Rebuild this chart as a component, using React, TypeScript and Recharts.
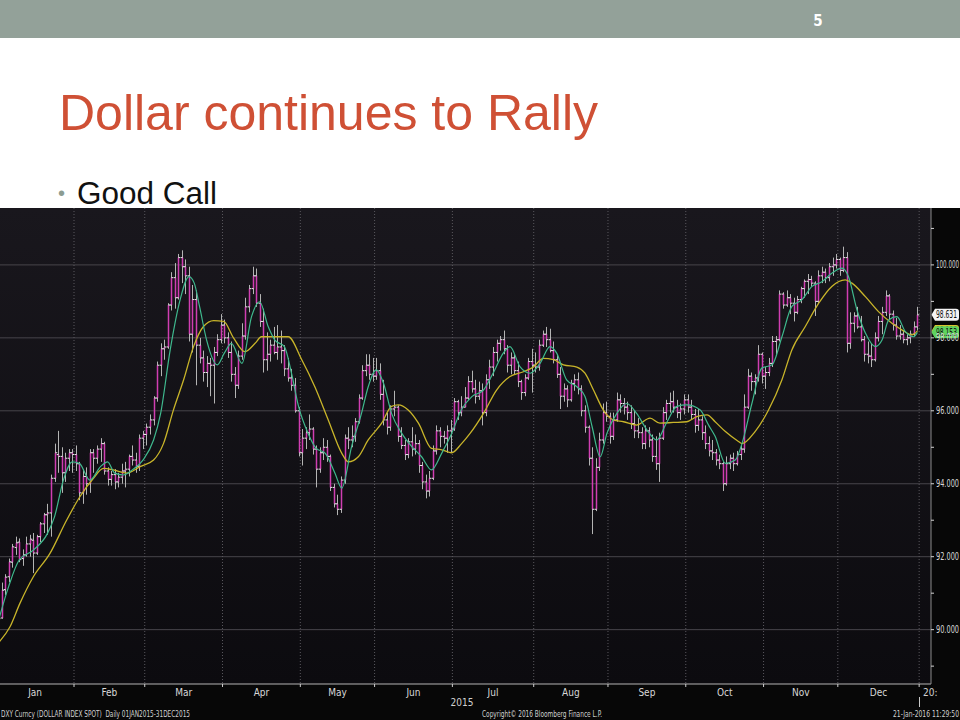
import React from 'react';
import { ComposedChart, Bar, Line, XAxis, YAxis, CartesianGrid, ReferenceLine } from 'recharts';

// DXY daily bars for 2015, one entry per weekday (index 0 = 1 Jan), one line per month
const opens = [
  90.27, 90.32, 91.10, 91.45, 91.85, 92.25, 92.40, 91.95, 92.05, 92.35, 92.45, 92.10, 92.55, 92.90, 93.15, 93.20, 94.15, 94.80, 94.75, 94.30, 94.70, 94.85,
  94.80, 94.55, 93.75, 94.20, 94.00, 94.85, 94.70, 94.95, 95.10, 94.35, 94.12, 94.25, 94.05, 94.18, 94.35, 94.40, 94.75, 94.65, 94.48, 95.25,
  95.35, 95.55, 95.75, 96.35, 97.25, 97.70, 97.75, 98.90, 99.65, 99.10, 100.20, 99.95, 99.70, 98.10, 99.05, 97.80, 97.45, 97.05, 97.30, 97.25, 97.60, 97.95,
  98.35, 98.00, 97.60, 97.00, 96.70, 97.50, 98.05, 98.85, 99.35, 99.70, 98.95, 98.45, 97.40, 97.55, 97.80, 97.60, 97.75, 97.65, 97.15, 96.90, 96.70, 96.00,
  94.85, 95.25, 95.40, 95.50, 94.95, 94.40, 94.85, 95.00, 94.75, 93.90, 93.45, 93.30, 94.10, 95.25, 95.20, 95.30, 95.70, 96.35, 97.10, 97.25, 97.00,
  96.95, 97.10, 96.45, 95.75, 95.55, 96.05, 96.10, 95.30, 95.05, 94.80, 95.15, 94.95, 95.10, 94.50, 94.05, 93.80, 94.15, 94.90, 95.45, 95.30, 95.25, 95.45,
  95.50, 96.25, 95.95, 96.10, 96.35, 96.80, 96.60, 96.40, 96.55, 95.95, 96.85, 97.20, 97.60, 97.85, 97.95, 97.70, 97.25, 97.45, 97.10, 96.80, 96.50, 96.90, 97.35,
  97.25, 97.20, 97.80, 98.10, 97.95, 97.65, 97.40, 97.00, 96.40, 96.60, 96.30, 96.75, 96.85, 96.60, 96.00, 95.55, 94.70, 93.30, 94.45, 95.20, 95.95,
  95.85, 95.30, 95.75, 96.30, 96.20, 96.10, 95.95, 95.65, 95.45, 95.40, 95.10, 95.45, 95.20, 94.75, 94.55, 95.25, 95.95, 96.20, 96.25, 96.10, 95.95, 96.05,
  96.30, 96.10, 95.90, 95.60, 95.75, 95.40, 95.10, 94.90, 94.85, 94.65, 94.55, 94.00, 94.55, 94.70, 94.55, 94.80, 94.95, 96.10, 96.95, 96.80, 96.90, 97.55,
  96.95, 97.05, 97.30, 97.90, 97.95, 99.20, 98.90, 99.10, 98.95, 98.70, 99.05, 99.35, 99.55, 99.60, 99.50, 99.00, 99.70, 99.80, 99.65, 99.95, 100.00,
  100.15, 99.85, 100.20, 97.85, 98.40, 98.60, 98.30, 97.95, 97.55, 97.50, 97.40, 98.00, 98.45, 98.70, 99.15, 98.65, 98.35, 98.05, 98.10, 97.95, 98.00, 98.10, 98.30,
];

const highs = [
  90.55, 91.29, 91.52, 91.95, 92.35, 92.55, 92.50, 92.20, 92.55, 92.60, 92.65, 92.60, 92.95, 93.20, 93.45, 94.25, 95.10, 95.45, 95.00, 94.85, 94.95, 94.95,
  95.05, 94.60, 94.40, 94.45, 94.95, 94.95, 95.05, 95.25, 95.15, 94.45, 94.35, 94.40, 94.30, 94.55, 94.60, 94.80, 95.05, 94.85, 95.35, 95.45,
  95.65, 95.90, 96.40, 97.35, 97.85, 97.95, 98.95, 99.80, 100.05, 100.30, 100.40, 100.15, 99.95, 99.45, 99.30, 98.00, 97.65, 97.50, 97.45, 97.75, 98.10, 98.65,
  98.50, 98.15, 97.90, 97.20, 97.65, 98.40, 99.10, 99.45, 99.95, 99.90, 99.20, 98.80, 98.15, 97.95, 98.30, 98.35, 98.20, 97.80, 97.45, 97.15, 96.90, 96.10,
  95.50, 95.55, 95.90, 95.55, 95.05, 95.00, 95.25, 95.20, 94.80, 94.00, 93.70, 94.20, 95.35, 95.55, 95.60, 95.80, 96.45, 97.25, 97.55, 97.55, 97.45,
  97.45, 97.30, 96.85, 95.95, 96.15, 96.55, 96.15, 95.55, 95.20, 95.25, 95.55, 95.35, 95.20, 94.60, 94.25, 94.35, 95.05, 95.60, 95.55, 95.45, 95.60, 95.75,
  96.35, 96.30, 96.40, 96.65, 96.95, 97.10, 96.85, 96.80, 96.75, 97.00, 97.40, 97.75, 97.95, 98.05, 98.20, 97.80, 97.60, 97.55, 97.35, 96.85, 97.00, 97.45, 97.70,
  97.60, 97.95, 98.20, 98.30, 98.25, 97.90, 97.55, 97.20, 96.75, 96.70, 96.85, 97.00, 97.05, 96.70, 96.15, 95.60, 95.00, 94.70, 95.40, 96.20, 96.25,
  95.95, 95.95, 96.50, 96.45, 96.35, 96.25, 96.15, 96.00, 95.80, 95.55, 95.60, 95.55, 95.35, 95.30, 95.40, 96.10, 96.30, 96.50, 96.55, 96.30, 96.20, 96.45,
  96.45, 96.30, 96.05, 96.05, 95.85, 95.60, 95.30, 95.20, 94.95, 94.80, 94.60, 94.75, 94.80, 94.85, 94.90, 95.05, 96.45, 97.15, 97.05, 97.00, 97.80, 97.60,
  97.20, 97.45, 98.05, 98.05, 99.30, 99.25, 99.30, 99.20, 99.10, 99.15, 99.40, 99.60, 99.75, 99.70, 99.55, 99.85, 99.95, 99.90, 100.05, 100.20, 100.30,
  100.20, 100.50, 100.35, 98.70, 98.70, 98.85, 98.60, 98.05, 97.90, 97.85, 98.15, 98.60, 98.85, 99.30, 99.20, 98.75, 98.55, 98.35, 98.20, 98.10, 98.20, 98.45, 98.85,
];

const lows = [
  90.15, 90.30, 90.95, 91.30, 91.70, 92.05, 91.85, 91.75, 92.00, 92.00, 91.55, 92.05, 92.40, 92.65, 92.60, 92.55, 94.05, 94.30, 93.75, 94.05, 94.35, 94.30,
  94.35, 93.55, 93.45, 93.70, 93.75, 94.30, 94.55, 94.60, 94.25, 93.95, 93.95, 93.85, 93.90, 94.00, 93.90, 94.20, 94.50, 94.30, 94.35, 94.95,
  95.05, 95.35, 95.60, 96.25, 96.95, 97.40, 97.70, 98.75, 98.80, 99.05, 99.50, 99.20, 97.90, 97.60, 96.70, 97.30, 96.80, 96.65, 96.40, 96.20, 97.50, 97.85,
  97.85, 97.45, 96.80, 96.35, 96.60, 97.40, 97.95, 98.70, 99.20, 98.85, 98.30, 97.05, 97.10, 97.35, 97.55, 97.40, 97.30, 96.95, 96.80, 96.55, 95.95, 94.75,
  94.50, 94.95, 95.20, 94.80, 93.90, 94.30, 94.65, 94.60, 93.80, 93.35, 93.14, 93.20, 94.00, 94.95, 95.00, 95.15, 95.65, 96.30, 96.95, 96.85, 96.80,
  96.85, 96.30, 95.60, 95.35, 95.45, 95.85, 95.15, 94.95, 94.65, 94.70, 94.75, 94.80, 94.30, 93.85, 93.60, 93.65, 94.10, 94.80, 95.00, 95.10, 94.85, 94.85,
  95.45, 95.75, 95.85, 96.10, 96.30, 96.50, 96.20, 96.30, 95.60, 95.85, 96.60, 96.95, 97.35, 97.65, 97.55, 97.05, 97.00, 97.00, 96.65, 96.30, 96.40, 96.85, 96.50,
  97.05, 97.10, 97.75, 97.75, 97.60, 97.30, 96.90, 96.05, 96.25, 96.10, 96.25, 96.55, 96.45, 95.85, 95.40, 94.50, 92.62, 93.25, 94.35, 95.10, 95.70,
  95.10, 95.20, 95.70, 95.95, 95.90, 95.75, 95.50, 95.25, 95.25, 94.95, 94.95, 95.00, 94.60, 94.38, 94.05, 95.20, 95.75, 95.95, 95.95, 95.80, 95.75, 95.90,
  95.95, 95.75, 95.40, 95.45, 95.20, 94.95, 94.75, 94.65, 94.50, 94.40, 93.80, 93.95, 94.40, 94.35, 94.50, 94.65, 94.85, 96.05, 96.55, 96.45, 96.80, 96.75,
  96.60, 96.95, 97.20, 97.50, 97.90, 98.80, 98.85, 98.65, 98.45, 98.65, 98.95, 99.10, 99.20, 99.40, 98.60, 98.95, 99.50, 99.50, 99.55, 99.70, 99.90,
  99.70, 99.80, 97.60, 97.70, 98.15, 98.25, 97.90, 97.35, 97.30, 97.20, 97.35, 97.90, 98.10, 98.60, 98.50, 98.20, 97.95, 97.95, 97.85, 97.80, 97.85, 98.05, 98.20,
];

const closes = [
  90.30, 91.08, 91.44, 91.86, 92.27, 92.38, 91.92, 92.05, 92.35, 92.48, 92.10, 92.55, 92.90, 93.15, 93.20, 94.15, 94.85, 94.75, 94.30, 94.70, 94.85, 94.80,
  94.55, 93.75, 94.20, 94.00, 94.85, 94.70, 94.95, 95.10, 94.35, 94.12, 94.25, 94.05, 94.18, 94.35, 94.40, 94.75, 94.65, 94.48, 95.25, 95.35,
  95.55, 95.75, 96.35, 97.25, 97.70, 97.75, 98.90, 99.65, 99.10, 100.20, 99.95, 99.70, 98.10, 99.05, 97.80, 97.45, 97.05, 97.30, 97.25, 97.60, 97.95, 98.35,
  98.00, 97.60, 97.00, 96.70, 97.50, 98.05, 98.85, 99.35, 99.70, 98.95, 98.45, 97.40, 97.55, 97.80, 97.60, 97.75, 97.65, 97.15, 96.90, 96.70, 96.00, 94.85,
  95.25, 95.40, 95.50, 94.95, 94.40, 94.85, 95.00, 94.75, 93.90, 93.45, 93.30, 94.10, 95.25, 95.20, 95.30, 95.70, 96.35, 97.10, 97.25, 97.00, 96.95,
  97.10, 96.45, 95.75, 95.55, 96.05, 96.10, 95.30, 95.05, 94.80, 95.15, 94.95, 95.10, 94.50, 94.05, 93.80, 94.15, 94.90, 95.45, 95.30, 95.25, 95.45, 95.50,
  96.25, 95.95, 96.10, 96.35, 96.80, 96.60, 96.40, 96.55, 95.95, 96.85, 97.20, 97.60, 97.85, 97.95, 97.70, 97.25, 97.45, 97.10, 96.80, 96.50, 96.90, 97.35, 97.25,
  97.20, 97.80, 98.10, 97.95, 97.65, 97.40, 97.00, 96.40, 96.60, 96.30, 96.75, 96.85, 96.60, 96.00, 95.55, 94.70, 93.30, 94.45, 95.20, 95.95, 95.85,
  95.30, 95.75, 96.30, 96.20, 96.10, 95.95, 95.65, 95.45, 95.40, 95.10, 95.45, 95.20, 94.75, 94.55, 95.25, 95.95, 96.20, 96.25, 96.10, 95.95, 96.05, 96.30,
  96.10, 95.90, 95.60, 95.75, 95.40, 95.10, 94.90, 94.85, 94.65, 94.55, 94.00, 94.55, 94.70, 94.55, 94.80, 94.95, 96.10, 96.95, 96.80, 96.90, 97.55, 96.95,
  97.05, 97.30, 97.90, 97.95, 99.20, 98.90, 99.10, 98.95, 98.70, 99.05, 99.35, 99.55, 99.60, 99.50, 99.00, 99.70, 99.80, 99.65, 99.95, 100.00, 100.15,
  99.85, 100.20, 97.85, 98.40, 98.60, 98.30, 97.95, 97.55, 97.50, 97.40, 98.00, 98.45, 98.70, 99.15, 98.65, 98.35, 98.05, 98.10, 97.95, 98.00, 98.10, 98.30, 98.63,
];

// green (fast) and yellow (slow) moving averages
const fastIdx = [0, 3, 6, 10, 14, 16, 18.5, 21, 23, 26, 29, 31, 33, 35.5, 38, 41, 44, 46, 48.7, 51.5, 54, 55.5, 57, 59, 62, 64, 66, 69, 71.7, 74, 76.4, 78.3, 81, 83, 85, 87.7, 90, 92.5, 95.3, 97.2, 100, 102.8, 104.7, 107, 109, 111.3, 114.2, 117, 119.8, 122.6, 125.5, 128.3, 131, 134, 137.3, 140, 142.9, 144.8, 147.6, 150.5, 153.3, 156.1, 158, 160.8, 163.7, 166, 168, 170.3, 172.2, 175, 177.8, 180.6, 183.5, 186.3, 189, 192, 194.8, 198.6, 201, 202.8, 205.7, 208.5, 210.4, 213.2, 216, 218.9, 221.7, 224.5, 227.3, 230.2, 233, 235.8, 238.7, 240.5, 242.9, 245.3, 248.1, 250, 251.9, 254.2, 256.6, 258.9, 260];
const fastVal = [90.2, 91.18, 91.91, 92.18, 92.64, 93.1, 94.1, 94.6, 94.56, 94.1, 94.47, 94.6, 94.29, 94.24, 94.38, 94.65, 95.2, 95.93, 97.67, 99.04, 99.68, 99.5, 98.86, 97.94, 97.26, 97.58, 97.85, 97.3, 98.58, 98.99, 98.31, 97.94, 97.76, 97.03, 96.12, 95.38, 94.97, 94.84, 94.29, 93.88, 95.02, 95.93, 96.66, 97.12, 96.76, 95.93, 95.38, 95.02, 94.74, 94.38, 94.84, 95.38, 96.02, 96.39, 96.57, 97.03, 97.58, 97.76, 97.21, 97.03, 97.3, 97.76, 97.58, 96.85, 96.66, 96.39, 95.57, 94.74, 95.38, 95.93, 96.2, 95.93, 95.48, 95.2, 95.66, 96.12, 96.16, 96.02, 95.6, 95.3, 94.56, 94.65, 95.1, 96.2, 97.17, 97.26, 98.03, 98.86, 99.04, 99.41, 99.54, 99.77, 99.91, 99.68, 98.77, 98.13, 97.76, 97.94, 98.49, 98.58, 98.17, 98.03, 98.15];

const slowIdx = [0, 3.4, 6.2, 10, 14.7, 19.4, 23.2, 27, 29.8, 32.6, 36.4, 40.2, 44, 46.8, 49.6, 52.5, 55.3, 58.1, 61, 63.8, 66.6, 69.8, 72.7, 74.5, 82.1, 85.9, 89.6, 93.4, 97.2, 99.1, 101.9, 104.7, 108.5, 111.3, 113.2, 116, 118.9, 122.6, 125.5, 128.3, 131.1, 133.5, 137.3, 141, 144.8, 148.6, 151.4, 154.2, 157.1, 159.9, 163.7, 166, 168.4, 171.2, 174, 176.9, 180.6, 184.4, 187.2, 191, 194.8, 197.6, 200.5, 202.8, 205.7, 209.4, 210.4, 214.1, 217.9, 221.7, 224.5, 228.3, 232.1, 235.8, 239.6, 241.5, 245.3, 249, 252.8, 255.6, 258.5, 260];
const slowVal = [89.63, 90.08, 90.72, 91.45, 92.09, 93.0, 93.65, 94.15, 94.42, 94.38, 94.29, 94.47, 94.65, 95.1, 96.02, 96.85, 97.76, 98.31, 98.47, 98.45, 98.0, 97.62, 97.85, 98.03, 98.03, 97.4, 96.66, 95.75, 94.84, 94.6, 94.74, 95.2, 95.66, 96.12, 96.16, 96.02, 95.66, 94.97, 94.93, 94.85, 95.1, 95.38, 95.93, 96.57, 96.94, 97.07, 97.2, 97.44, 97.4, 97.26, 97.2, 97.03, 96.57, 96.02, 95.75, 95.7, 95.61, 95.8, 95.66, 95.68, 95.7, 95.84, 95.89, 95.7, 95.43, 95.16, 95.1, 95.43, 96.02, 96.85, 97.67, 98.31, 98.95, 99.41, 99.59, 99.5, 99.13, 98.72, 98.4, 98.22, 98.08, 98.19];

const monthLabels = ['Jan', 'Feb', 'Mar', 'Apr', 'May', 'Jun', 'Jul', 'Aug', 'Sep', 'Oct', 'Nov', 'Dec'];
const monthMids = [10.5, 31.5, 52.5, 74.5, 96, 117.5, 140, 162, 183.5, 205.5, 227, 249];
const monthStarts = [21.5, 41.5, 63.5, 85.5, 106.5, 128.5, 151.5, 172.5, 194.5, 216.5, 237.5, 260.5];
const yTicks = [89, 90, 91, 92, 93, 94, 95, 96, 97, 98, 99, 100, 101];
const yMajor = [90, 92, 94, 96, 98, 100];
const lastPrice = 98.631;
const fastLast = 98.153;
const slowLast = 98.19;

const bars = closes.map((c, i) => ({
  i,
  range: [lows[i], highs[i]],
  open: opens[i],
  close: c,
  high: highs[i],
  low: lows[i],
}));
const fastLine = fastIdx.map((i, k) => ({ i, v: fastVal[k] }));
const slowLine = slowIdx.map((i, k) => ({ i, v: slowVal[k] }));

const narrow = "'Liberation Sans Narrow', 'Arial Narrow', 'DejaVu Sans Condensed', 'Liberation Sans', sans-serif";
const sans = "'Liberation Sans', Arial, Helvetica, sans-serif";

const OhlcBar = (props: any) => {
  const { x, y, width, height, payload } = props;
  if (x == null || !payload) return null;
  const top = Math.min(y, y + height);
  const h = Math.abs(height);
  const span = payload.high - payload.low || 1;
  const yOf = (v: number) => top + ((payload.high - v) / span) * h;
  const cx = Math.round(x + width / 2) + 0.5;
  const yo = yOf(payload.open);
  const yc = yOf(payload.close);
  return (
    <g>
      <line x1={cx} x2={cx} y1={top} y2={top + h} stroke="#b4b4b4" strokeWidth={1} />
      <line x1={cx} x2={cx} y1={yo} y2={yc} stroke="#d03eb2" strokeWidth={1.5} />
      <line x1={cx - 1.8} x2={cx} y1={yo} y2={yo} stroke="#ececec" strokeWidth={1} />
      <line x1={cx} x2={cx + 1.8} y1={yc} y2={yc} stroke="#ececec" strokeWidth={1} />
    </g>
  );
};

const YTick = ({ x, y, payload }: any) => {
  const v = payload.value;
  const major = v % 2 === 0;
  return (
    <g>
      <line x1={x} x2={x + 3} y1={y} y2={y} stroke="#d4d4d4" />
      {major && (
        <text x={x + 5} y={y + 3.5} fill="#d8d8d8" fontSize={10} fontFamily={narrow} textLength={23} lengthAdjust="spacingAndGlyphs">
          {v.toFixed(3)}
        </text>
      )}
    </g>
  );
};

const XTick = ({ x, y, payload }: any) => {
  const k = monthMids.indexOf(payload.value);
  if (k < 0) return <line x1={x} x2={x} y1={y} y2={y + 3} stroke="#cfcfcf" />;
  return (
    <text x={x} y={y + 12} textAnchor="middle" fill="#d8d8d8" fontSize={10} fontFamily={narrow}>
      {monthLabels[k]}
    </text>
  );
};

const PriceTag = ({ viewBox, v, fill }: any) => {
  if (!viewBox) return null;
  const left = viewBox.x + viewBox.width;
  const y = viewBox.y;
  return (
    <g>
      <path d={`M${left + 0.5} ${y} L${left + 4} ${y - 6} H${left + 25} Q${left + 28} ${y - 6} ${left + 28} ${y - 3} V${y + 3} Q${left + 28} ${y + 6} ${left + 25} ${y + 6} H${left + 4} Z`} fill={fill} />
      <text x={left + 5} y={y + 3.5} fontSize={10} fontFamily={narrow} fill="#111" textLength={21} lengthAdjust="spacingAndGlyphs">
        {v.toFixed(3)}
      </text>
    </g>
  );
};

export default function App() {
  return (
    <div style={{ position: 'absolute', left: 0, top: 0, width: 960, height: 720, background: '#ffffff', overflow: 'hidden' }}>
      <div style={{ position: 'absolute', left: 0, top: 0, width: 960, height: 38, background: '#93a199' }} />

      <div style={{ position: 'absolute', left: 0, top: 208, width: 960, height: 512, background: '#070707' }}>
        <div style={{ position: 'absolute', left: 0, top: 0, width: 931, height: 476, background: 'linear-gradient(#19171d, #0c0b0f)' }} />
        <div style={{ position: 'absolute', left: 0, top: 0 }}>
          <ComposedChart width={960} height={512} data={bars} margin={{ top: 0, right: 0, bottom: 0, left: 0 }}>
            <CartesianGrid horizontal vertical={false} horizontalValues={yMajor} stroke="#47454b" />
            <CartesianGrid horizontal={false} vertical verticalValues={monthStarts} stroke="#5a585e" strokeDasharray="1 2" />
            <XAxis
              dataKey="i"
              type="number"
              scale="linear"
              domain={[0.57, 263.85]}
              allowDataOverflow
              ticks={[...monthMids, ...monthStarts].sort((a, b) => a - b)}
              interval={0}
              tick={<XTick />}
              tickLine={false}
              tickSize={0}
              tickMargin={0}
              height={36}
              axisLine={{ stroke: '#b4b4b4' }}
            />
            <YAxis
              orientation="right"
              type="number"
              domain={[88.51, 101.56]}
              allowDataOverflow
              ticks={yTicks}
              interval={0}
              tick={<YTick />}
              tickLine={false}
              tickSize={0}
              tickMargin={0}
              width={29}
              axisLine={{ stroke: '#8c8c8c' }}
            />
            <Bar dataKey="range" barSize={3} shape={<OhlcBar />} isAnimationActive={false} />
            <Line data={slowLine} dataKey="v" type="monotone" stroke="#c9b52a" strokeWidth={1.3} dot={false} isAnimationActive={false} />
            <Line data={fastLine} dataKey="v" type="monotone" stroke="#3fb98e" strokeWidth={1.2} dot={false} isAnimationActive={false} />
            <ReferenceLine y={lastPrice} strokeOpacity={0} label={<PriceTag v={lastPrice} fill="#f4f4f4" />} />
            <ReferenceLine y={slowLast} strokeOpacity={0} label={<PriceTag v={slowLast} fill="#d8c52e" />} />
            <ReferenceLine y={fastLast} strokeOpacity={0} label={<PriceTag v={fastLast} fill="#5fd35f" />} />
          </ComposedChart>
        </div>
      </div>

      <svg width={960} height={720} style={{ position: 'absolute', left: 0, top: 0, pointerEvents: 'none' }}>
        <text x={818} y={26} textAnchor="middle" fill="#ffffff" fontSize={15} fontWeight="bold" fontFamily={narrow}>5</text>
        <text x={59} y={130} fill="#cf5035" fontSize={50} fontFamily={sans} textLength={539} lengthAdjust="spacingAndGlyphs">
          Dollar continues to Rally
        </text>
        <text x={58} y={200} fill="#8c9c92" fontSize={20} fontFamily={sans}>•</text>
        <text x={77} y={204} fill="#111111" fontSize={31} fontFamily={sans} textLength={140} lengthAdjust="spacingAndGlyphs">
          Good Call
        </text>

        <text x={462} y={706} textAnchor="middle" fill="#d0d0d0" fontSize={10} fontFamily={narrow}>2015</text>
        <text x={923} y={696} fill="#d0d0d0" fontSize={10} fontFamily={narrow}>20:</text>
        <line x1={919.5} x2={919.5} y1={697} y2={707} stroke="#c8c8c8" />
        <text x={1} y={717} fill="#d0d0d0" fontSize={9.5} fontFamily={narrow} textLength={189} lengthAdjust="spacingAndGlyphs" style={{ whiteSpace: 'pre' }}>
          {'DXY Curncy (DOLLAR INDEX SPOT)  Daily 01JAN2015-31DEC2015'}
        </text>
        <text x={482} y={717} fill="#d0d0d0" fontSize={9.5} fontFamily={narrow} textLength={120} lengthAdjust="spacingAndGlyphs">
          Copyright© 2016 Bloomberg Finance L.P.
        </text>
        <text x={893} y={717} fill="#d0d0d0" fontSize={9.5} fontFamily={narrow} textLength={66} lengthAdjust="spacingAndGlyphs">
          21-Jan-2016 11:29:50
        </text>
      </svg>
    </div>
  );
}
